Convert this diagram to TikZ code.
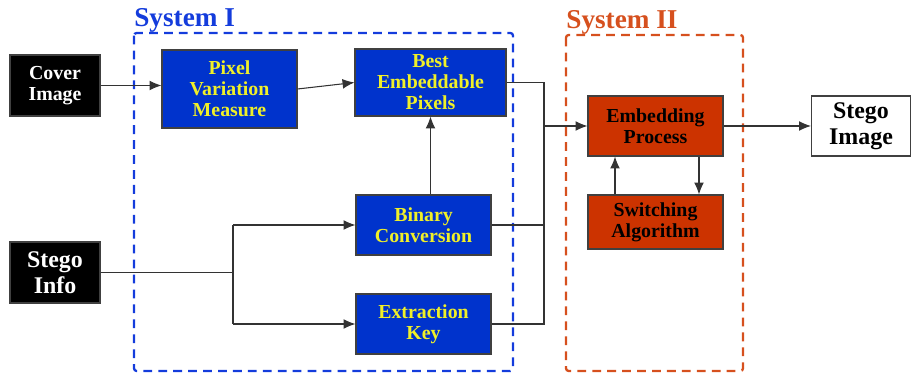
\documentclass[tikz,border=0pt]{standalone}
\usepackage{fontspec}
\setmainfont{Liberation Serif}
\usetikzlibrary{arrows.meta}

\definecolor{boxblue}{RGB}{0,51,204}
\definecolor{boxred}{RGB}{204,51,0}
\definecolor{dashblue}{RGB}{20,60,220}
\definecolor{dashred}{RGB}{214,80,30}
\definecolor{textyellow}{RGB}{240,240,40}

\tikzset{
  blk/.style = {draw = black!75, line width = 0.6pt, align = center, inner sep = 0pt,
    font = \fontsize{11.3}{11.9}\selectfont\bfseries},
  bigblk/.style = {blk, font = \fontsize{13.6}{14.8}\selectfont\bfseries},
  inbox/.style = {blk, fill = black, text = white},
  bluebox/.style = {blk, fill = boxblue, text = textyellow},
  redbox/.style = {blk, fill = boxred, text = black},
  link/.style = {draw = black!80, line width = 0.6pt},
  arr/.style = {link, -{Latex[length = 6.8pt, width = 5.6pt]}},
  sysbox/.style = {line width = 1.3pt, dash pattern = on 5pt off 3.5pt, rounded corners = 1.5pt},
  syslabel/.style = {anchor = base west, inner sep = 0pt, font = \fontsize{15.5}{16}\selectfont\bfseries}
}

\begin{document}
\begin{tikzpicture}[x = 0.02cm, y = -0.02cm]
\useasboundingbox (0, 0) rectangle (911, 374);

\draw[sysbox, dashblue] (134, 33) rectangle (513, 371);
\draw[sysbox, dashred] (566, 35) rectangle (743, 371);
\node[syslabel, text = dashblue] (sysone) at (134, 27) {System I};
\node[syslabel, text = dashred] (systwo) at (566, 29) {System II};

\node[inbox, minimum width = 1.8cm, minimum height = 1.22cm] (cover) at (55, 85.5) {Cover\\Image};
\node[inbox, bigblk, fill = black, text = white, minimum width = 1.8cm, minimum height = 1.22cm] (info) at (55, 272.5) {Stego\\Info};

\node[bluebox, minimum width = 2.7cm, minimum height = 1.56cm] (pvm) at (229.5, 89) {Pixel\\Variation\\Measure};
\node[bluebox, minimum width = 3.02cm, minimum height = 1.34cm] (bep) at (430.5, 82.5) {Best\\Embeddable\\Pixels};
\node[bluebox, minimum width = 2.7cm, minimum height = 1.2cm] (bin) at (423.5, 225) {Binary\\Conversion};
\node[bluebox, minimum width = 2.7cm, minimum height = 1.2cm] (ext) at (423.5, 324) {Extraction\\Key};

\node[redbox, minimum width = 2.7cm, minimum height = 1.2cm] (emb) at (655.5, 126) {Embedding\\Process};
\node[redbox, minimum width = 2.7cm, minimum height = 1.08cm] (sw) at (655.5, 222) {Switching\\Algorithm};

\node[bigblk, fill = white, minimum width = 1.98cm, minimum height = 1.2cm] (stego) at (861, 126) {Stego\\Image};

\coordinate (split) at (233, 272.5);
\coordinate (merge) at (544, 126);

\draw[arr] (cover.east) -- (cover.east -| pvm.west);
\draw[arr] (pvm.east) -- (bep.west);
\draw[arr] (bep.south |- bin.north) -- (bep.south);

\draw[link] (info.east) -- (split);
\draw[link] (split |- bin.west) -- (split |- ext.west);
\draw[arr] (split |- bin.west) -- (bin.west);
\draw[arr] (split |- ext.west) -- (ext.west);

\draw[link] (bep.east) -| (merge |- ext.east) -- (ext.east);
\draw[link] (bin.east) -- (bin.east -| merge);
\draw[arr] (merge) -- (emb.west);

\draw[arr] ([xshift = -0.81cm]sw.north) -- ([xshift = -0.81cm]emb.south);
\draw[arr] ([xshift = 0.87cm]emb.south) -- ([xshift = 0.87cm]sw.north);

\draw[arr] (emb.east) -- (stego.west);
\end{tikzpicture}
\end{document}
